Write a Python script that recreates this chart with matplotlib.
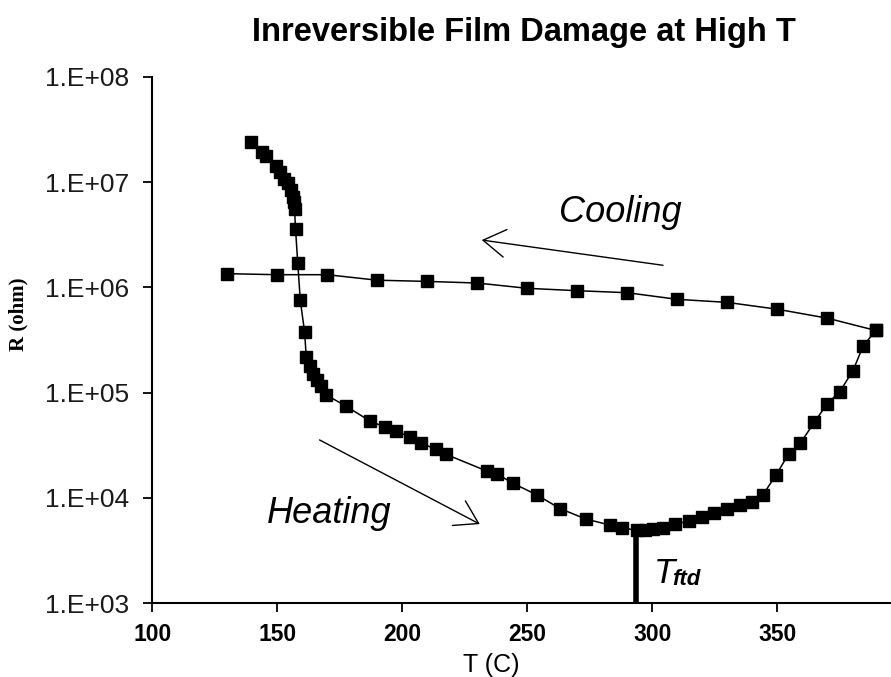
import numpy as np
import matplotlib.pyplot as plt

# heating run (C, ohm)
t_heat = [139.5, 143.9, 145.5, 149.6, 150.9, 152.5, 154.2, 155.3, 156.2, 156.5,
          156.9, 157.3, 158.2, 159.2, 160.9, 161.6, 162.9, 164.2, 165.8, 167.6,
          169.6, 177.6, 186.9, 192.9, 197.4, 203.2, 207.6, 213.4, 217.3, 233.7,
          237.7, 244.1, 253.7, 263.1, 273.3, 283.1, 287.8, 293.8, 297.1, 300.4,
          304.4, 309.1, 314.5, 319.8, 324.8, 329.9, 335.2, 339.9, 344.3, 349.6,
          354.5, 359.2, 364.8, 369.9, 375.0, 380.3, 384.3, 389.3]
r_heat = [2.43e7, 1.95e7, 1.78e7, 1.41e7, 1.26e7, 1.08e7, 9.8e6, 8.5e6, 7.2e6, 6.5e6,
          5.6e6, 3.6e6, 1.7e6, 7.6e5, 3.8e5, 2.2e5, 1.8e5, 1.5e5, 1.32e5, 1.15e5,
          9.5e4, 7.4e4, 5.4e4, 4.7e4, 4.3e4, 3.8e4, 3.3e4, 2.9e4, 2.6e4, 1.8e4,
          1.7e4, 1.38e4, 1.07e4, 7.9e3, 6.3e3, 5.5e3, 5.2e3, 4.9e3, 4.9e3, 5.0e3,
          5.2e3, 5.6e3, 6.0e3, 6.6e3, 7.1e3, 7.8e3, 8.5e3, 9.1e3, 1.07e4, 1.66e4,
          2.6e4, 3.3e4, 5.2e4, 7.8e4, 1.02e5, 1.62e5, 2.75e5, 3.9e5]

# cooling run
t_cool = [389.3, 370, 350, 330, 310, 290, 270, 250, 230, 210, 190, 170, 150, 130]
r_cool = [3.9e5, 5.1e5, 6.2e5, 7.2e5, 7.7e5, 8.9e5, 9.3e5, 9.8e5, 1.1e6, 1.14e6,
          1.17e6, 1.32e6, 1.32e6, 1.35e6]

# film damage onset
t_ftd = 293.5
r_ftd = 4.9e3

yticks = [1e3, 1e4, 1e5, 1e6, 1e7, 1e8]
ylabels = ['1.E+03', '1.E+04', '1.E+05', '1.E+06', '1.E+07', '1.E+08']
xticks = [100, 150, 200, 250, 300, 350]

fig = plt.figure(figsize=(8.91, 6.77), dpi=100)
ax = fig.add_axes([0.1709, 0.1093, 0.8291, 0.777])

ax.plot(t_heat, r_heat, color='black', lw=1.1, marker='s', ms=8.5,
        mec='black', mfc='black', clip_on=False)
ax.plot(t_cool, r_cool, color='black', lw=1.1, marker='s', ms=8.5,
        mec='black', mfc='black', clip_on=False)
ax.plot([t_ftd, t_ftd], [1e3, r_ftd], color='black', lw=4.0, solid_capstyle='butt')

ax.set_yscale('log')
ax.set_xlim(100, 395.5)
ax.set_ylim(1e3, 1e8)
ax.set_yticks(yticks)
ax.set_yticklabels(ylabels)
ax.yaxis.set_minor_locator(plt.NullLocator())
ax.set_xticks(xticks)

for s in ['top', 'right']:
    ax.spines[s].set_visible(False)
for s in ['left', 'bottom']:
    ax.spines[s].set_linewidth(1.5)
ax.tick_params(axis='both', length=6.5, width=1.3, color='black')
ax.tick_params(axis='y', labelsize=19, pad=10, labelcolor='#1a1a1a')
ax.tick_params(axis='x', labelsize=16.5, pad=8)
for lab in ax.get_yticklabels():
    lab.set_family('Liberation Sans')
for lab in ax.get_xticklabels():
    lab.set_family('Liberation Sans')
    lab.set_fontweight('bold')

fig.text(491 / 891, 1 - 672 / 677, 'T (C)', family='Liberation Sans', fontsize=18,
         ha='center', va='baseline')
fig.text(18 / 891, 1 - 314 / 677, 'R (ohm)', family='Liberation Serif',
         fontweight='bold', fontsize=15, rotation=90, ha='center', va='center')

fig.text(524 / 891, 1 - 41.5 / 677, 'Inreversible Film Damage at High T',
         ha='center', va='baseline', family='Liberation Sans', fontweight='bold',
         fontsize=23.5)

# direction arrows
head = dict(lw=1.0, color='black', mutation_scale=40,
            arrowstyle='->,head_length=0.4,head_width=0.25', shrinkA=0, shrinkB=0)
ax.annotate('', xy=(231.8, 10**6.45), xytext=(304.3, 10**6.21), arrowprops=head)
ax.annotate('', xy=(231.0, 10**3.75), xytext=(166.9, 10**4.55), arrowprops=head)

ax.text(287.1, 10**6.622, 'Cooling', style='italic', family='Liberation Sans',
        fontsize=26, ha='center', va='baseline')
ax.text(170.9, 10**3.76, 'Heating', style='italic', family='Liberation Sans',
        fontsize=26, ha='center', va='baseline')

ax.text(300.5, 10**3.19, 'T', style='italic', family='Liberation Sans',
        fontsize=25, ha='left', va='baseline')
ax.text(308.0, 10**3.171, 'ftd', style='italic', fontweight='bold',
        family='Liberation Sans', fontsize=16, ha='left', va='baseline')

fig.savefig('out.png', dpi=100)
